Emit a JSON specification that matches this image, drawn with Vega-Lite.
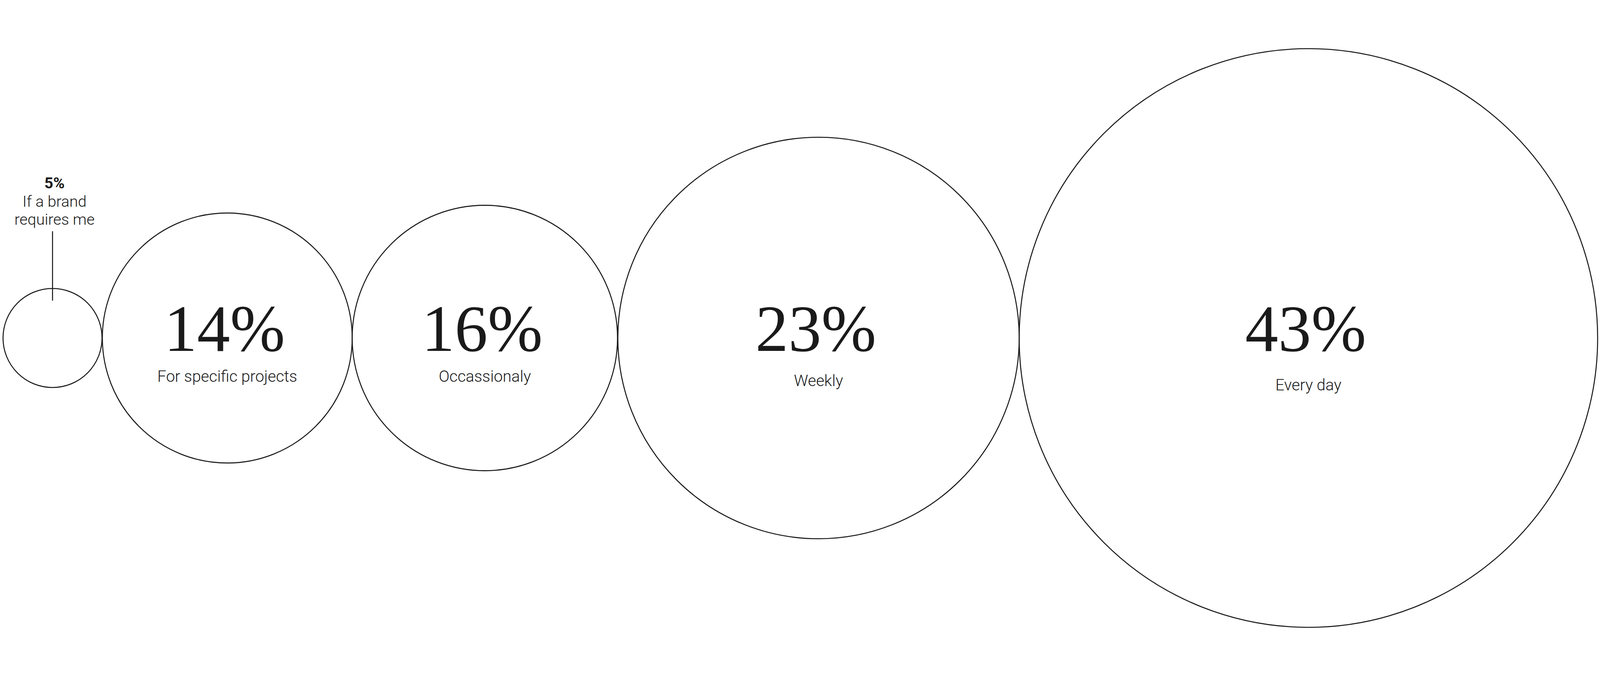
{
  "$schema": "https://vega.github.io/schema/vega-lite/v6.json",
  "width": 4752,
  "height": 1730,
  "autosize": {"type": "none"},
  "padding": 0,
  "background": "white",
  "config": {"view": {"stroke": null}},
  "params": [
    {"name": "s", "expr": "min(1, windowSize()[0] / 4752)"}
  ],
  "data": {
    "values": [
      {"answer": "If a brand\nrequires me", "share": 0.05},
      {"answer": "For specific projects", "share": 0.14},
      {"answer": "Occassionaly", "share": 0.16},
      {"answer": "Weekly", "share": 0.23},
      {"answer": "Every day", "share": 0.43}
    ]
  },
  "encoding": {
    "x": {
      "field": "share",
      "type": "quantitative",
      "axis": null,
      "scale": {
        "domain": [0.05, 0.14, 0.16, 0.23, 0.43],
        "range": [{"expr": "156*s"}, {"expr": "675*s"}, {"expr": "1440*s"}, {"expr": "2431*s"}, {"expr": "3886*s"}],
        "zero": false,
        "nice": false
      }
    }
  },
  "layer": [
    {
      "mark": {"type": "point", "shape": "circle", "filled": false, "stroke": "#1a1a1a", "strokeWidth": {"expr": "3*s"}, "opacity": 1},
      "encoding": {
        "size": {
          "field": "share",
          "type": "quantitative",
          "legend": null,
          "scale": {
            "domain": [0.05, 0.14, 0.16, 0.23, 0.43],
            "range": [{"expr": "86436*s*s"}, {"expr": "550564*s*s"}, {"expr": "620944*s*s"}, {"expr": "1420864*s*s"}, {"expr": "2951524*s*s"}],
            "zero": false,
            "nice": false
          }
        }
      }
    },
    {
      "transform": [{"filter": "datum.share >= 0.1"}],
      "mark": {"type": "text", "font": "Liberation Serif", "fontSize": {"expr": "196*s"}, "baseline": "alphabetic", "align": "center", "dy": {"expr": "38*s"}, "dx": {"expr": "-8*s"}, "color": "#1a1a1a"},
      "encoding": {"text": {"field": "share", "type": "quantitative", "format": ".0%"}}
    },
    {
      "transform": [{"filter": "datum.share >= 0.1 && datum.share < 0.2"}],
      "mark": {"type": "text", "font": "Roboto", "fontWeight": 300, "fontSize": {"expr": "47*s"}, "baseline": "alphabetic", "align": "center", "dy": {"expr": "130*s"}, "color": "#1a1a1a"},
      "encoding": {"text": {"field": "answer", "type": "nominal"}}
    },
    {
      "transform": [{"filter": "datum.share >= 0.2 && datum.share < 0.3"}],
      "mark": {"type": "text", "font": "Roboto", "fontWeight": 300, "fontSize": {"expr": "47*s"}, "baseline": "alphabetic", "align": "center", "dy": {"expr": "143*s"}, "color": "#1a1a1a"},
      "encoding": {"text": {"field": "answer", "type": "nominal"}}
    },
    {
      "transform": [{"filter": "datum.share >= 0.3"}],
      "mark": {"type": "text", "font": "Roboto", "fontWeight": 300, "fontSize": {"expr": "47*s"}, "baseline": "alphabetic", "align": "center", "dy": {"expr": "155*s"}, "color": "#1a1a1a"},
      "encoding": {"text": {"field": "answer", "type": "nominal"}}
    },
    {
      "transform": [{"filter": "datum.share < 0.1"}],
      "mark": {"type": "text", "font": "Roboto", "fontWeight": 700, "fontSize": {"expr": "46*s"}, "baseline": "alphabetic", "align": "center", "dy": {"expr": "-444*s"}, "dx": {"expr": "6*s"}, "color": "#1a1a1a"},
      "encoding": {"text": {"field": "share", "type": "quantitative", "format": ".0%"}}
    },
    {
      "transform": [{"filter": "datum.share < 0.1"}],
      "mark": {"type": "text", "font": "Roboto", "fontWeight": 300, "fontSize": {"expr": "46*s"}, "lineHeight": {"expr": "54*s"}, "lineBreak": "\n", "baseline": "alphabetic", "align": "center", "dy": {"expr": "-390*s"}, "dx": {"expr": "6*s"}, "color": "#1a1a1a"},
      "encoding": {"text": {"field": "answer", "type": "nominal"}}
    },
    {
      "transform": [{"filter": "datum.share < 0.1"}],
      "mark": {"type": "rule", "y": {"expr": "height/2 - 317*s"}, "y2": {"expr": "height/2 - 111*s"}, "stroke": "#1a1a1a", "strokeWidth": {"expr": "3*s"}},
      "encoding": {}
    }
  ]
}
